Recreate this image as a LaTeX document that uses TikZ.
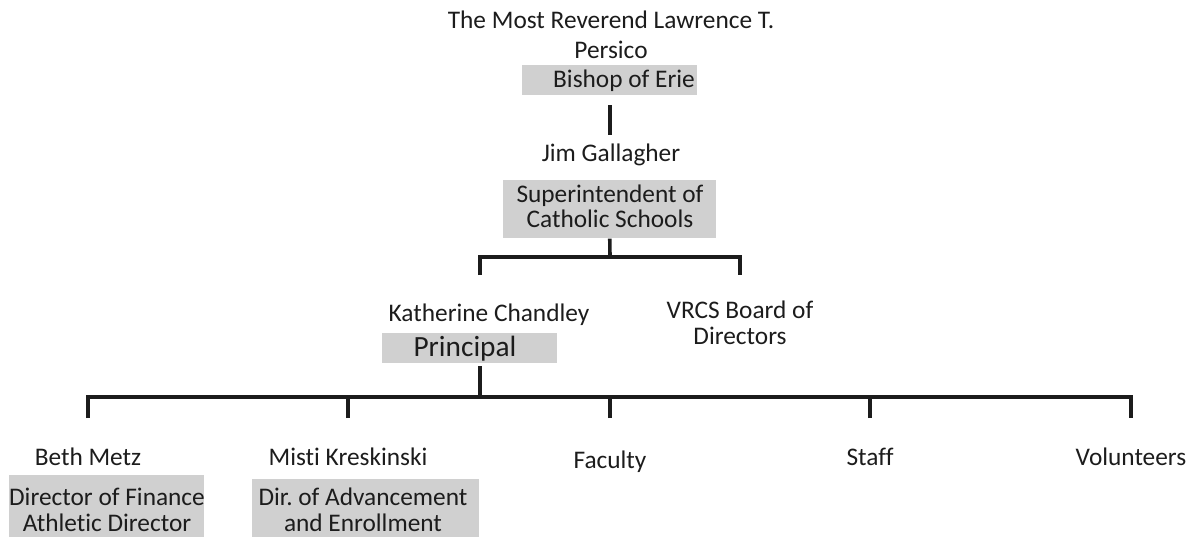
\documentclass[tikz,border=0pt]{standalone}
\usepackage{fontspec}
\setmainfont{Carlito}[Ligatures={NoCommon}]
\usetikzlibrary{calc}
\definecolor{boxgray}{RGB}{208,208,208}
\definecolor{ink}{RGB}{28,28,28}
\frenchspacing
\begin{document}
\begin{tikzpicture}[x=0.75pt,y=-0.75pt,
  lbl/.style={text=ink, font=\fontsize{19}{22.5}\selectfont, align=center, inner sep=0pt},
  gbox/.style={fill=boxgray, draw=none, inner sep=0pt, anchor=north west},
  conn/.style={line width=2.7pt, draw=ink, line join=miter},
  thick conn/.style={line width=3.6pt, draw=ink}]
\useasboundingbox (0,0) rectangle (1199,536);
% grey boxes
\node[gbox, minimum width=131.25pt, minimum height=22.5pt] (bbox) at (522,65) {};
\node[gbox, minimum width=159.75pt, minimum height=43.5pt] (sbox) at (503,180) {};
\node[gbox, minimum width=131.25pt, minimum height=22.5pt] (pbox) at (382,333) {};
\node[gbox, minimum width=146.25pt, minimum height=48.75pt] (fbox) at (9,475) {};
\node[gbox, minimum width=170.25pt, minimum height=45.75pt] (abox) at (252,479) {};
% texts
\node[lbl] (bishopname) at (611,35) {The Most Reverend Lawrence T.\\Persico};
\node[lbl] (bishoptitle) at (624,81) {Bishop of Erie};
\node[lbl] (jim) at (611,155) {Jim Gallagher};
\node[lbl, font=\fontsize{19}{18.75}\selectfont] (suptitle) at (610,206) {Superintendent of\\Catholic Schools};
\node[lbl] (kath) at (489,315) {Katherine Chandley};
\node[lbl, font=\fontsize{22}{24}\selectfont] (principal) at (465,349) {Principal};
\node[lbl, font=\fontsize{19}{19.5}\selectfont] (vrcs) at (740,323) {VRCS Board of\\Directors};
\node[lbl] (beth) at (88,457) {Beth Metz};
\node[lbl] (misti) at (348,457) {Misti Kreskinski};
\node[lbl] (faculty) at (610,462) {Faculty};
\node[lbl] (staff) at (870,457) {Staff};
\node[lbl] (vol) at (1131,457) {Volunteers};
\node[lbl, font=\fontsize{19}{19.5}\selectfont] (bethtitle) at (107,510) {Director of Finance\\Athletic Director};
\node[lbl, font=\fontsize{19}{19.5}\selectfont] (mistititle) at (363,510) {Dir. of Advancement\\and Enrollment};
% connector coordinates
\coordinate (bl1) at (610,105);
\coordinate (bl2) at (610,135);
\coordinate (j1) at (610,257);
\coordinate (kt) at (480,275);
\coordinate (vt) at (740,275);
\coordinate (pb) at (480,366);
\coordinate (hb) at (480,397);
\coordinate (t1) at (88,418);
\coordinate (t2) at (348,418);
\coordinate (t3) at (610,418);
\coordinate (t4) at (870,418);
\coordinate (t5) at (1131,418);
% connectors
\draw[thick conn] (bl1) -- (bl2);
\draw[conn] (sbox.south) -- (j1);
\draw[conn] (kt) |- (j1) -| (vt);
\draw[thick conn] (pb) -- (hb);
\draw[conn] (t1) -- (t1 |- hb) -- (t5 |- hb) -- (t5);
\draw[conn] (t2) -- (t2 |- hb);
\draw[conn] (t3) -- (t3 |- hb);
\draw[conn] (t4) -- (t4 |- hb);
\end{tikzpicture}
\end{document}
